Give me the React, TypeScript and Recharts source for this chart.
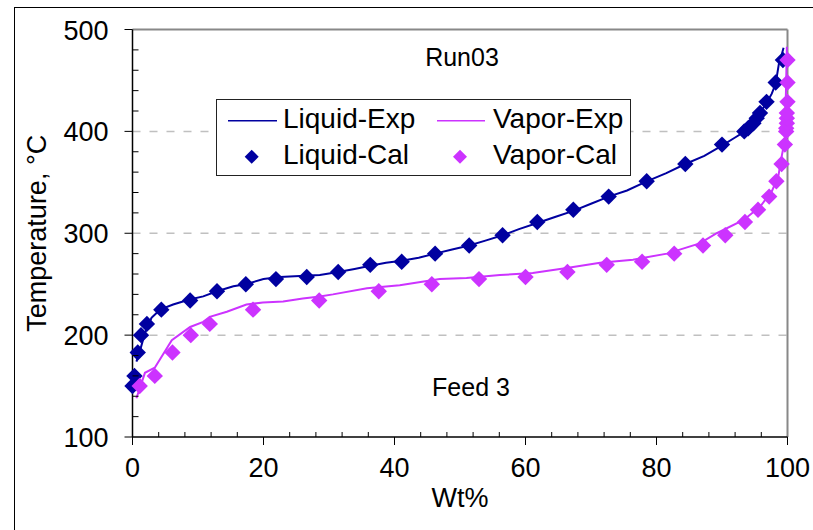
import { ScatterChart, Scatter, XAxis, YAxis, ReferenceLine } from "recharts"

// temperatures shared by both calculated series
const calTemps = [150, 160, 183, 200, 211, 225, 234, 243, 250, 255, 257, 262, 269, 272, 280, 288, 298, 311, 323, 336, 351, 368, 387, 400, 403, 408, 413, 418, 429, 448, 470]
const liquidCalWt = [0, 0.3, 0.8, 1.3, 2.2, 4.4, 8.8, 12.9, 17.3, 21.9, 26.6, 31.4, 36.3, 41.1, 46.2, 51.4, 56.5, 61.8, 67.3, 72.7, 78.5, 84.4, 90.0, 93.4, 94.0, 94.8, 95.3, 95.8, 96.8, 98.2, 99.3]
const vaporCalWt = [1.1, 3.4, 6.1, 8.9, 11.8, 18.4, 28.5, 37.6, 45.7, 52.9, 60.0, 66.4, 72.4, 77.8, 82.7, 87.1, 90.5, 93.5, 95.5, 97.2, 98.3, 99.1, 99.6, 99.8, 99.8, 99.9, 99.9, 99.9, 100, 100, 100]

const liquidExpWt = [0.6, 1.2, 1.9, 2.9, 4.2, 6.2, 8.7, 10.8, 12.9, 15.4, 17.3, 20, 22.5, 25.5, 28.6, 31.4, 33.9, 36.3, 38.7, 41.1, 43.7, 46.2, 48.8, 51.4, 54, 56.5, 59, 61.8, 64.5, 67.3, 70, 72.7, 75.5, 78.5, 81.5, 84.4, 87.3, 90, 92, 93.5, 95, 96, 97, 97.6, 98.2, 98.7, 99.1, 99.4]
const liquidExpT = [174, 186, 202, 217, 225, 230, 235, 238, 243, 248, 250, 255, 257, 258, 259, 262, 265, 268, 271, 273, 276, 280, 284, 288, 293, 298, 304, 310, 316, 322, 329, 336, 342, 351, 359, 368, 376, 386, 394, 400, 410, 420, 430, 437, 447, 467, 475, 482]

const vaporExpWt = [0.6, 1.9, 3.4, 6.0, 8.8, 10.8, 11.8, 14.4, 17.4, 19.9, 23, 26, 28.6, 30.6, 35.8, 40.8, 46.9, 51, 56.1, 61.1, 66.3, 71.4, 76.4, 81.6, 86.6, 89.2, 93.3, 95.8, 97.6, 98.6, 99.1, 99.6, 99.7, 99.8, 99.9]
const vaporExpT = [138, 163, 168, 195, 208, 213, 218, 223, 230, 232, 233, 236, 238, 240, 246, 249, 255, 256, 259, 261, 266, 271, 274, 280, 290, 300, 313, 326, 341, 356, 375, 392, 420, 450, 483]

const xTicks = [0, 4, 8, 12, 16, 20, 24, 28, 32, 36, 40, 44, 48, 52, 56, 60, 64, 68, 72, 76, 80, 84, 88, 92, 96, 100]
const yTicks = [100, 120, 140, 160, 180, 200, 220, 240, 260, 280, 300, 320, 340, 360, 380, 400, 420, 440, 460, 480, 500]
const gridValues = [200, 300, 400]

const liquidColor = "#0000A0"
const vaporColor = "#CC33FF"
const font = "'Liberation Sans', Arial, sans-serif"

const liquidCal = liquidCalWt.map((wt, i) => ({ wt, t: calTemps[i] }))
const vaporCal = vaporCalWt.map((wt, i) => ({ wt, t: calTemps[i] }))
const liquidExp = liquidExpWt.map((wt, i) => ({ wt, t: liquidExpT[i] }))
const vaporExp = vaporExpWt.map((wt, i) => ({ wt, t: vaporExpT[i] }))

const diamond = (color: string, r: number) => (props: any) => {
  const { cx, cy } = props
  return <polygon points={`${cx},${cy - r} ${cx + r},${cy} ${cx},${cy + r} ${cx - r},${cy}`} fill={color} />
}

const XTick = (props: any) => {
  const { x, y, payload } = props
  const major = payload.value % 20 === 0
  return (
    <g>
      <line x1={x} x2={x} y1={y} y2={major ? y + 8 : y - 5} stroke="#000" strokeWidth={1} />
      {major && (
        <text x={x} y={y + 40} textAnchor="middle" fontSize={27} fontFamily={font} fill="#000">
          {payload.value}
        </text>
      )}
    </g>
  )
}

const YTick = (props: any) => {
  const { x, y, payload } = props
  const major = payload.value % 100 === 0
  return (
    <g>
      <line x1={x} x2={major ? x - 8 : x + 6} y1={y} y2={y} stroke="#000" strokeWidth={1} />
      {major && (
        <text x={x - 24} y={y + 10} textAnchor="end" fontSize={27} fontFamily={font} fill="#000">
          {payload.value}
        </text>
      )}
    </g>
  )
}

const XLabel = (props: any) => {
  const vb = props.viewBox
  return (
    <text x={vb.x + vb.width / 2} y={vb.y + 70} textAnchor="middle" fontSize={27} fontFamily={font} fill="#000">
      Wt%
    </text>
  )
}

const YLabel = (props: any) => {
  const vb = props.viewBox
  const x = vb.x + 36
  const y = vb.y + vb.height / 2
  return (
    <text x={x} y={y} transform={`rotate(-90 ${x} ${y})`} textAnchor="middle" fontSize={27} fontFamily={font} fill="#000">
      Temperature, °C
    </text>
  )
}

const hidden = () => <g />

export default function App() {
  return (
    <div style={{ position: "absolute", left: 0, top: 0, width: 813, height: 530, background: "#fff", overflow: "hidden" }}>
      <div style={{ position: "absolute", left: 14, top: 7, width: 798, height: 522, borderLeft: "1px solid #000", borderTop: "1px solid #000" }} />
      <div style={{ position: "absolute", left: 0, top: 0 }}>
        <ScatterChart width={813} height={530} margin={{ top: 29.5, right: 25.5, left: 10, bottom: 13 }}>
          <XAxis
            type="number"
            dataKey="wt"
            domain={[0, 100]}
            ticks={xTicks}
            interval={0}
            tick={<XTick />}
            tickLine={false}
            tickSize={0}
            tickMargin={0}
            axisLine={{ stroke: "#000", strokeWidth: 1.5 }}
            height={80}
            label={<XLabel />}
          />
          <YAxis
            type="number"
            dataKey="t"
            domain={[100, 500]}
            ticks={yTicks}
            interval={0}
            tick={<YTick />}
            tickLine={false}
            tickSize={0}
            tickMargin={0}
            axisLine={{ stroke: "#000", strokeWidth: 1.5 }}
            width={122.5}
            label={<YLabel />}
          />
          {gridValues.map((v) => (
            <ReferenceLine key={v} y={v} stroke="#c0c0c0" strokeWidth={1.5} strokeDasharray="8 9" />
          ))}
          <ReferenceLine y={500} stroke="#888" strokeWidth={2} />
          <ReferenceLine x={100} stroke="#888" strokeWidth={2} />
          <Scatter name="Liquid-Exp" data={liquidExp} fill={liquidColor} line={{ stroke: liquidColor, strokeWidth: 2 }} lineType="joint" shape={hidden} isAnimationActive={false} />
          <Scatter name="Vapor-Exp" data={vaporExp} fill={vaporColor} line={{ stroke: vaporColor, strokeWidth: 2 }} lineType="joint" shape={hidden} isAnimationActive={false} />
          <Scatter name="Liquid-Cal" data={liquidCal} fill={liquidColor} shape={diamond(liquidColor, 8.2)} isAnimationActive={false} />
          <Scatter name="Vapor-Cal" data={vaporCal} fill={vaporColor} shape={diamond(vaporColor, 8.2)} isAnimationActive={false} />
        </ScatterChart>
      </div>
      <svg width={813} height={530} style={{ position: "absolute", left: 0, top: 0, pointerEvents: "none" }}>
        <text x={462} y={66} textAnchor="middle" fontSize={25} fontFamily={font} fill="#000">Run03</text>
        <text x={471} y={396} textAnchor="middle" fontSize={25} fontFamily={font} fill="#000">Feed 3</text>
        <g transform="translate(216,99)">
          <rect x={0.5} y={0.5} width={414} height={76} fill="#fff" stroke="#222" strokeWidth={1} />
          <line x1={12} x2={61} y1={21.7} y2={21.7} stroke={liquidColor} strokeWidth={1.5} />
          <text x={67} y={28.7} fontSize={28} fontFamily={font} fill="#000">Liquid-Exp</text>
          <line x1={221} x2={269} y1={21.7} y2={21.7} stroke={vaporColor} strokeWidth={1.5} />
          <text x={277} y={28.7} fontSize={28} fontFamily={font} fill="#000">Vapor-Exp</text>
          {diamond(liquidColor, 7)({ cx: 35.7, cy: 57.7 })}
          <text x={67} y={65} fontSize={28} fontFamily={font} fill="#000">Liquid-Cal</text>
          {diamond(vaporColor, 7)({ cx: 244, cy: 57.7 })}
          <text x={277} y={65} fontSize={28} fontFamily={font} fill="#000">Vapor-Cal</text>
        </g>
      </svg>
    </div>
  )
}
